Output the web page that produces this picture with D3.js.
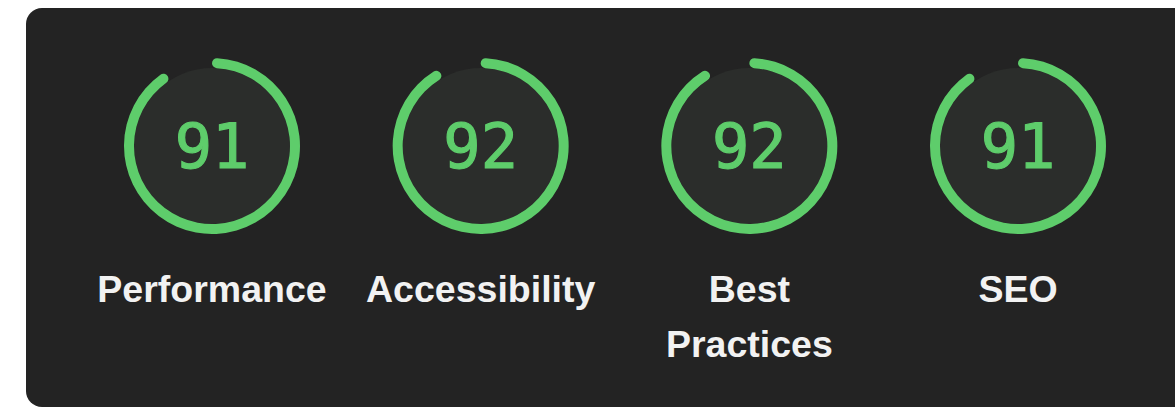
<!DOCTYPE html>
<html><head><meta charset="utf-8">
<script src="https://cdn.jsdelivr.net/npm/d3@7"></script>
<style>html,body{margin:0;padding:0;background:#ffffff;overflow:hidden}</style>
</head><body>
<svg id="c" width="1175" height="408"></svg>
<script>
const categories = ["Performance", "Accessibility", "Best Practices", "SEO"];
const labelLines = [["Performance"], ["Accessibility"], ["Best", "Practices"], ["SEO"]];
const scores = [91, 92, 92, 91];

const svg = d3.select("#c");
const green = "#5ecd6b";

svg.append("rect").attr("x", 26).attr("y", 8).attr("width", 1175).attr("height", 399)
  .attr("rx", 16).attr("fill", "#232323");

const x = d3.scalePoint().domain(categories).range([212, 1018]);
const ang = d3.scaleLinear().domain([0, 100]).range([0, 2 * Math.PI]);
const cy = 146, r = 83, sw = 10;

const g = svg.selectAll("g.gauge").data(categories).join("g")
  .attr("class", "gauge")
  .attr("transform", d => `translate(${x(d)},${cy})`);

g.append("circle").attr("r", r - sw / 2).attr("fill", "#2b2d2b");

const arc = d3.arc().innerRadius(r - sw / 2).outerRadius(r + sw / 2).cornerRadius(sw / 2).startAngle(0);
g.append("path")
  .attr("d", (d, i) => arc({endAngle: ang(scores[i])}))
  .attr("fill", green);

g.append("text")
  .attr("text-anchor", "middle")
  .attr("y", 22)
  .attr("font-family", "'DejaVu Sans Mono', monospace")
  .attr("font-size", 62)
  .attr("fill", green)
  .attr("stroke", green)
  .attr("stroke-width", 1.2)
  .text((d, i) => scores[i]);

const lab = g.append("text")
  .attr("text-anchor", "middle")
  .attr("font-family", "'Liberation Sans', Arial, sans-serif")
  .attr("font-weight", "bold")
  .attr("font-size", 37.5)
  .attr("fill", "#f2f2f2");
lab.selectAll("tspan").data((d, i) => labelLines[i]).join("tspan")
  .attr("x", 0)
  .attr("y", (d, j) => 156 + j * 55)
  .text(d => d);
</script>
</body></html>
